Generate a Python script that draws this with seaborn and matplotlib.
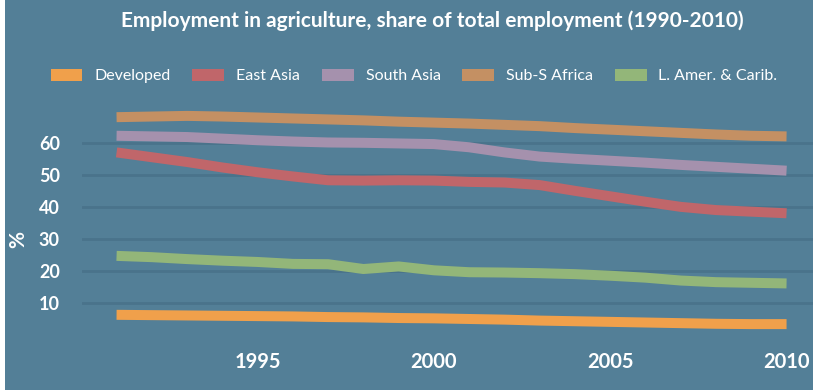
import numpy as np
import pandas as pd
import matplotlib
matplotlib.use("Agg")
import matplotlib.pyplot as plt
from matplotlib.patches import Patch, Rectangle
import seaborn as sns

years = list(range(1991, 2011))
developed = [6.3, 6.2, 6.1, 6.0, 5.9, 5.8, 5.6, 5.5, 5.3, 5.2, 5.0, 4.8, 4.5, 4.3, 4.1, 3.9, 3.7, 3.5, 3.4, 3.4]
east_asia = [57.0, 55.5, 54.0, 52.3, 50.8, 49.5, 48.3, 48.2, 48.3, 48.2, 47.8, 47.6, 46.8, 45.0, 43.3, 41.6, 40.0, 39.0, 38.5, 38.0]
south_asia = [62.2, 62.0, 61.8, 61.3, 60.8, 60.4, 60.1, 60.0, 59.8, 59.6, 58.6, 57.0, 55.7, 55.0, 54.4, 53.8, 53.1, 52.5, 51.9, 51.3]
ssa = [68.0, 68.2, 68.4, 68.2, 67.9, 67.6, 67.3, 67.0, 66.6, 66.3, 66.0, 65.6, 65.2, 64.6, 64.1, 63.6, 63.1, 62.6, 62.2, 62.0]
latam = [24.7, 24.3, 23.7, 23.2, 22.8, 22.2, 22.1, 20.6, 21.4, 20.2, 19.6, 19.5, 19.3, 19.0, 18.5, 17.9, 17.0, 16.5, 16.3, 16.1]

series_names = ["Developed", "East Asia", "South Asia", "Sub-S Africa", "L. Amer. & Carib."]
series_values = [developed, east_asia, south_asia, ssa, latam]
colors = ["#f0a04b", "#c0666a", "#a591ad", "#c49063", "#93b679"]

x_ticks = [1995, 2000, 2005, 2010]
y_ticks = [10, 20, 30, 40, 50, 60]
title = "Employment in agriculture, share of total employment (1990-2010)"

df = pd.DataFrame({
    "year": np.tile(years, len(series_names)),
    "value": np.concatenate(series_values),
    "region": np.repeat(series_names, len(years)),
})

BG = "#537f97"
GRID = "#4a738b"
FONT = ["Lato", "DejaVu Sans"]

sns.set_theme(style="white")
plt.rcParams["font.family"] = FONT

fig = plt.figure(figsize=(8.13, 3.90), dpi=100)
fig.patch.set_facecolor("white")
fig.add_artist(Rectangle((5 / 813, 0), 1, 1, transform=fig.transFigure,
                         facecolor=BG, edgecolor="none", zorder=-10))

ax = fig.add_axes([82 / 813, (390 - 335) / 390, (813 - 82) / 813, 230 / 390])
ax.set_facecolor("none")

palette = dict(zip(series_names, colors))
sns.lineplot(data=df, x="year", y="value", hue="region", palette=palette,
             linewidth=7.2, legend=False, ax=ax, solid_capstyle="butt",
             solid_joinstyle="round", zorder=3, errorbar=None)

ax.set_xlim(1990.02, 2010.75)
ax.set_ylim(0, 71.8)
ax.set_yticks(y_ticks)
ax.set_xticks(x_ticks)
ax.yaxis.grid(True, color=GRID, linewidth=2.0)
ax.xaxis.grid(False)
for s in ax.spines.values():
    s.set_visible(False)
ax.tick_params(axis="both", length=0, colors="white")
ax.tick_params(axis="y", pad=16, labelsize=13)
ax.tick_params(axis="x", pad=12, labelsize=14.5)
for lab in ax.get_yticklabels() + ax.get_xticklabels():
    lab.set_fontweight("bold")
    lab.set_color("white")
ax.set_xlabel("")
ax.set_ylabel("")
fig.text(18 / 813, 1 - 239 / 390, "%", rotation=90, color="white",
         fontsize=15, fontweight="bold", ha="center", va="center")

fig.text(432 / 813, 1 - 21 / 390, title, color="white", fontsize=15,
         fontweight="bold", ha="center", va="center")

handles = [Patch(facecolor=c, edgecolor="none", label=n) for n, c in zip(series_names, colors)]
leg = fig.legend(handles=handles, loc="center", bbox_to_anchor=(414 / 813, 1 - 76 / 390),
                 ncol=5, frameon=False, fontsize=11.5, handlelength=2.0, handleheight=0.85,
                 handletextpad=0.75, columnspacing=1.35, labelcolor="white",
                 borderaxespad=0, borderpad=0)

fig.savefig("out.png", dpi=100, facecolor=fig.get_facecolor())
